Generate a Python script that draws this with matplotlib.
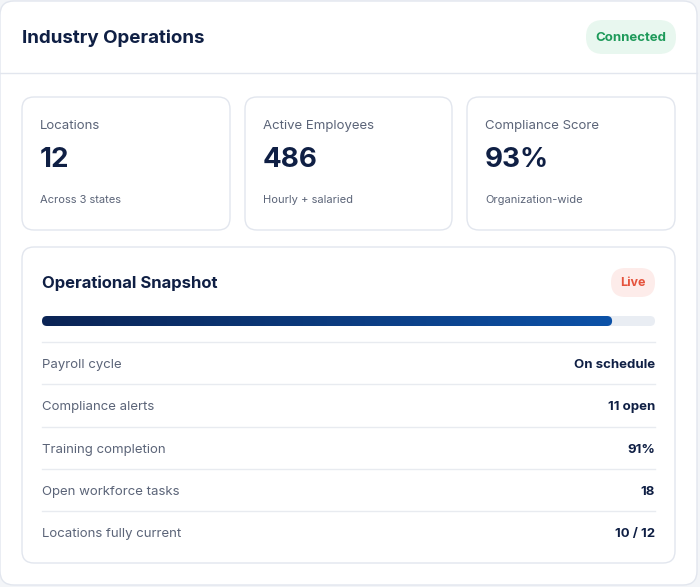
import matplotlib
matplotlib.use("Agg")
import matplotlib.pyplot as plt
import numpy as np
from matplotlib.patches import FancyBboxPatch
from matplotlib.colors import LinearSegmentedColormap

plt.rcParams["font.family"] = ["Inter", "DejaVu Sans"]

NAVY = "#0f1f44"
MUTED = "#5b6478"
BORDER = "#e2e6ee"

stats = [
    ("Locations", "12", "Across 3 states"),
    ("Active Employees", "486", "Hourly + salaried"),
    ("Compliance Score", "93%", "Organization-wide"),
]
rows = [
    ("Payroll cycle", "On schedule"),
    ("Compliance alerts", "11 open"),
    ("Training completion", "91%"),
    ("Open workforce tasks", "18"),
    ("Locations fully current", "10 / 12"),
]
progress = 0.93

fig = plt.figure(figsize=(7.0, 5.87), dpi=100)
fig.patch.set_facecolor("#f3f5f8")
ax = fig.add_axes([0, 0, 1, 1])
ax.set_xlim(0, 700)
ax.set_ylim(587, 0)
ax.axis("off")


def rbox(x0, y0, x1, y1, r, fc, ec=BORDER, lw=1.0, z=1):
    ax.add_patch(FancyBboxPatch((x0 + r, y0 + r), x1 - x0 - 2 * r, y1 - y0 - 2 * r,
                                boxstyle=f"round,pad={r}", fc=fc, ec=ec, lw=lw, zorder=z))


rbox(0, 1, 697, 585, 14, "white")
ax.plot([0, 697], [73, 73], color=BORDER, lw=1, zorder=2)
ax.text(22, 38, "Industry Operations", fontsize=13.5, fontweight="bold", color=NAVY, va="center")
rbox(586, 20, 676, 54, 16.9, "#e8f7ef", ec="none", z=2)
ax.text(631, 38, "Connected", fontsize=9.5, fontweight="bold", color="#1e9a5a", ha="center", va="center", zorder=3)

xs = [(22, 230), (245, 452), (467, 675)]
for (x0, x1), (lab, val, sub) in zip(xs, stats):
    rbox(x0, 97, x1, 230, 12, "white", z=2)
    ax.text(x0 + 18, 126, lab, fontsize=9.5, color=MUTED, va="center", zorder=3)
    ax.text(x0 + 18, 160, val, fontsize=20, fontweight="bold", color=NAVY, va="center", zorder=3)
    ax.text(x0 + 18, 200, sub, fontsize=8, color=MUTED, va="center", zorder=3)

rbox(22, 247, 675, 563, 12, "white", z=2)
ax.text(42, 283, "Operational Snapshot", fontsize=12, fontweight="bold", color=NAVY, va="center", zorder=3)
rbox(611, 268, 655, 297, 14.4, "#fdecea", ec="none", z=3)
ax.text(633, 283, "Live", fontsize=9, fontweight="bold", color="#e5533d", ha="center", va="center", zorder=4)

# progress bar
bx0, bx1, by0, by1 = 42, 655, 316, 326
rbox(bx0, by0, bx1, by1, 5, "#e9edf3", ec="none", z=3)
fill_x1 = bx0 + progress * (bx1 - bx0)
cmap = LinearSegmentedColormap.from_list("g", ["#0b2455", "#0d52a8"])
im = ax.imshow(np.linspace(0, 1, 256)[None, :], cmap=cmap, aspect="auto",
               extent=(bx0, fill_x1, by1, by0), zorder=4)
clip = FancyBboxPatch((bx0 + 5, by0 + 5), fill_x1 - bx0 - 10, 0, boxstyle="round,pad=5",
                      fc="none", ec="none", transform=ax.transData)
ax.add_patch(clip)
im.set_clip_path(clip)

y = 342
for lab, val in rows:
    ax.plot([42, 655], [y, y], color="#e8ebf0", lw=1, zorder=3)
    ax.text(42, y + 23, lab, fontsize=9.5, color=MUTED, va="center", zorder=3)
    ax.text(655, y + 23, val, fontsize=9.5, fontweight="bold", color=NAVY, ha="right", va="center", zorder=3)
    y += 42.3

fig.savefig("out.png", dpi=100, facecolor=fig.get_facecolor())
